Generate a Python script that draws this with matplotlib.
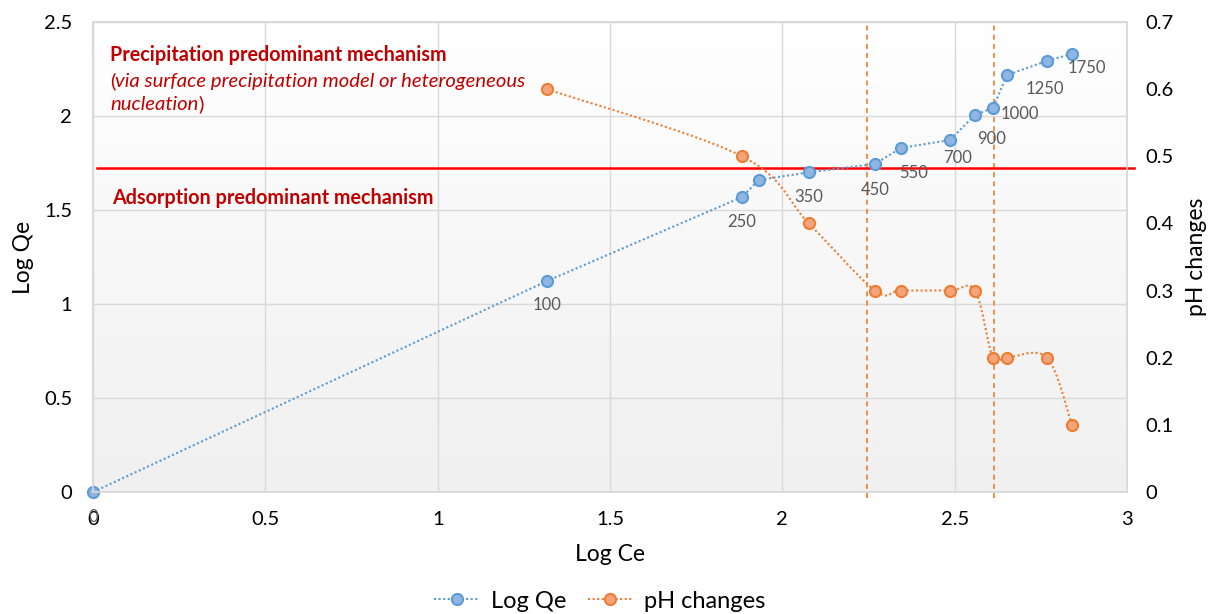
import numpy as np
import matplotlib
matplotlib.use("Agg")
import matplotlib.pyplot as plt
import matplotlib.transforms as mtransforms

plt.rcParams['font.family'] = ['Lato', 'DejaVu Sans']

# ---- data ----
log_ce = [0.0, 1.317, 1.883, 1.932, 2.077, 2.269, 2.344, 2.486, 2.559, 2.611, 2.652, 2.768, 2.840]
log_qe = [0.0, 1.122, 1.569, 1.660, 1.700, 1.745, 1.830, 1.872, 2.005, 2.043, 2.218, 2.293, 2.330]
conc_labels = ['0', '100', '250', '', '350', '450', '550', '700', '900', '1000', '', '1250', '1750']

ph_ce = [1.317, 1.883, 2.077, 2.269, 2.344, 2.486, 2.559, 2.611, 2.652, 2.768, 2.840]
ph_change = [0.6, 0.5, 0.4, 0.3, 0.3, 0.3, 0.3, 0.2, 0.2, 0.2, 0.1]

boundary_qe = 1.723          # mechanism boundary (Log Qe)
marker_ce = [2.245, 2.614]   # reference Log Ce positions

# label offsets in pixels (dx, dy)
label_offsets = [(0, -25), (0, -24), (0, -25), (0, 0), (0, -25), (0, -26), (13, -25),
                 (8, -18), (17, -24), (27, -6), (0, 0), (-2, -28), (15, -14)]

BLUE = '#5B9BD5'
BLUE_FACE = '#8FB6E3'
ORANGE = '#ED7D31'
ORANGE_FACE = '#F4A47A'
DARKRED = '#C00000'
GRID = '#D9D9D9'


def smooth(xs, ys, n=40):
    """Cardinal (Catmull-Rom style) smoothing like office charts."""
    p = np.column_stack([xs, ys]).astype(float)
    pts = np.vstack([p[0], p, p[-1]])
    out = []
    for i in range(1, len(pts) - 2):
        p0, p1, p2, p3 = pts[i - 1], pts[i], pts[i + 1], pts[i + 2]
        c1 = p1 + (p2 - p0) / 6.0
        c2 = p2 - (p3 - p1) / 6.0
        t = np.linspace(0, 1, n)[:, None]
        seg = ((1 - t) ** 3) * p1 + 3 * ((1 - t) ** 2) * t * c1 + 3 * (1 - t) * t ** 2 * c2 + t ** 3 * p2
        out.append(seg if i == 1 else seg[1:])
    out = np.vstack(out)
    return out[:, 0], out[:, 1]


fig = plt.figure(figsize=(12.10, 6.14), dpi=100)
ax = fig.add_axes([0.0769, 0.1987, 0.8545, 0.7655])
ax2 = ax.twinx()

# background gradient
grad = np.linspace(0, 1, 256)[:, None]
cmap = matplotlib.colors.LinearSegmentedColormap.from_list('bg', ['#FFFFFF', '#F0F0F0'])
ax.imshow(grad, extent=[0, 1, 0, 1], transform=ax.transAxes, cmap=cmap,
          aspect='auto', origin='upper', zorder=-2)
ax.patch.set_visible(False)

ax.set_xlim(0, 3)
ax.set_ylim(0, 2.5)
ax2.set_ylim(0, 0.7)
ax.set_xticks(np.arange(0, 3.01, 0.5))
ax.set_xticklabels(['0', '0.5', '1', '1.5', '2', '2.5', '3'])
ax.set_yticks(np.arange(0, 2.51, 0.5))
ax.set_yticklabels(['0', '0.5', '1', '1.5', '2', '2.5'])
ax2.set_yticks(np.arange(0, 0.71, 0.1))
ax2.set_yticklabels(['0', '0.1', '0.2', '0.3', '0.4', '0.5', '0.6', '0.7'])

ax.grid(True, color=GRID, lw=1.0, zorder=-1)
ax.set_axisbelow(True)
for a in (ax, ax2):
    for s in a.spines.values():
        s.set_color(GRID)
        s.set_linewidth(1.2)
    a.tick_params(length=0, labelsize=14.5, colors='black')
ax.tick_params(axis='x', pad=14)
ax.tick_params(axis='y', pad=15)
ax2.tick_params(axis='y', pad=13)

ax.set_xlabel('Log Ce', fontsize=16.5, labelpad=11)
ax.set_ylabel('Log Qe', fontsize=16.5, labelpad=7)
ax2.set_ylabel('pH changes', fontsize=16.5, labelpad=9)

# vertical reference lines
blend = mtransforms.blended_transform_factory(ax.transData, ax.transAxes)
for xc in marker_ce:
    ax.plot([xc, xc], [-0.012, 1.0], transform=blend, color=ORANGE, lw=1.2,
            ls=(0, (3, 2.5)), clip_on=False, zorder=2)

# boundary line
ax.plot([0.012, 3.02], [boundary_qe, boundary_qe], color='#FF0000', lw=1.8,
        clip_on=False, zorder=3)

# Log Qe series
ln1, = ax.plot(log_ce, log_qe, color=BLUE, lw=1.5, ls=(0, (1, 1.2)), marker='o',
               ms=8, mfc=BLUE_FACE, mec=BLUE, mew=1.5, zorder=4, clip_on=False)
for x, y, lab, (dx, dy) in zip(log_ce, log_qe, conc_labels, label_offsets):
    if lab:
        ax.annotate(lab, (x, y), xytext=(dx, dy), textcoords='offset pixels',
                    ha='center', va='center', fontsize=12, color='#595959', zorder=5)

# pH series (smoothed)
sx, sy = smooth(ph_ce, ph_change)
ax2.plot(sx, sy, color=ORANGE, lw=1.5, ls=(0, (1, 1.2)), zorder=4)
ax2.plot(ph_ce, ph_change, ls='none', marker='o', ms=8, mfc=ORANGE_FACE,
         mec=ORANGE, mew=1.5, zorder=5)
ln2 = matplotlib.lines.Line2D([], [], color=ORANGE, lw=1.5, ls=(0, (1, 1.2)), marker='o',
                              ms=8, mfc=ORANGE_FACE, mec=ORANGE, mew=1.5)

# annotations
ax.text(0.049, 2.324, 'Precipitation predominant mechanism', fontsize=14.2,
        fontweight='bold', color=DARKRED, va='center', ha='left')
t1 = ax.text(0.049, 2.186, '(', fontsize=14.6, color=DARKRED, va='center', ha='left')
t2 = ax.annotate('via surface precipitation model or heterogeneous', xy=(1, 0),
                 xycoords=t1, va='bottom', ha='left', fontsize=14.6, style='italic',
                 color=DARKRED)
t3 = ax.text(0.049, 2.059, 'nucleation', fontsize=14.6, style='italic', color=DARKRED,
             va='center', ha='left')
ax.annotate(')', xy=(1, 0), xycoords=t3, va='bottom', ha='left', fontsize=14.6,
            color=DARKRED)
ax.text(0.055, 1.564, 'Adsorption predominant mechanism', fontsize=14.2,
        fontweight='bold', color=DARKRED, va='center', ha='left')

fig.legend([ln1, ln2], ['Log Qe', 'pH changes'], loc='center', ncol=2,
           bbox_to_anchor=(0.496, 0.021), frameon=False, fontsize=17,
           handlelength=1.9, columnspacing=0.9, handletextpad=0.5)

fig.savefig('out.png', dpi=100)
